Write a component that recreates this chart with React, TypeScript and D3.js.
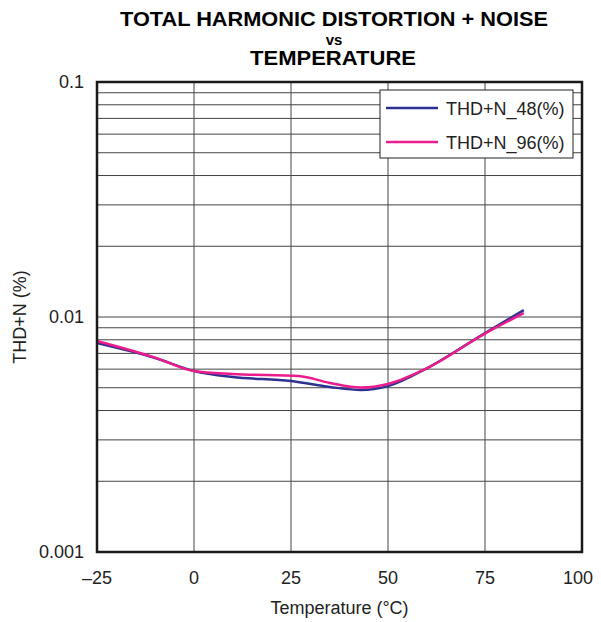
import React, { useEffect } from 'react';
import * as d3 from 'd3';

const temps48 = [-25, -10, 0, 10, 25, 35, 43, 50, 60, 75, 85];
const thd48 = [0.00775, 0.00669, 0.00589, 0.00555, 0.00534, 0.00504, 0.00489, 0.00508, 0.00605, 0.00855, 0.0107];

const temps96 = [-25, -10, 0, 10, 27, 35, 43, 50, 60, 75, 85];
const thd96 = [0.00791, 0.00672, 0.00589, 0.00572, 0.00561, 0.00524, 0.00501, 0.00519, 0.00605, 0.0085, 0.0104];

const xTicks = [-25, 0, 25, 50, 75, 100];
const yTicks = [0.001, 0.01, 0.1];
const yTickLabels = ['0.001', '0.01', '0.1'];

const seriesNames = ['THD+N_48(%)', 'THD+N_96(%)'];
const seriesColors = ['#2e3192', '#ec1c8c'];

const W = 601;
const H = 622;
const M = { left: 97, right: 582, top: 82, bottom: 552 };

const font = 'Arial, "Liberation Sans", Helvetica, sans-serif';

export default function App() {
  useEffect(() => {
    document.body.style.margin = '0';
  }, []);

  const x = d3.scaleLinear().domain([-25, 100]).range([M.left, M.right]);
  const y = d3.scaleLog().domain([0.001, 0.1]).range([M.bottom, M.top]);

  // minor log grid lines 2..9 per decade
  const minor: number[] = [];
  [0.001, 0.01].forEach((d) => {
    for (let k = 2; k <= 9; k++) minor.push(d * k);
  });

  const line = d3
    .line<[number, number]>()
    .x((d) => x(d[0]))
    .y((d) => y(d[1]))
    .curve(d3.curveMonotoneX);

  const series = [
    d3.zip(temps48, thd48) as [number, number][],
    d3.zip(temps96, thd96) as [number, number][],
  ];

  return (
    <svg width={W} height={H} style={{ display: 'block', background: 'white' }} fontFamily={font}>
      {/* title */}
      <text x={334} y={26} textAnchor="middle" fontSize={19.5} fontWeight="bold" fill="#000"
        textLength={428} lengthAdjust="spacingAndGlyphs">
        TOTAL HARMONIC DISTORTION + NOISE
      </text>
      <text x={334} y={45} textAnchor="middle" fontSize={15} fontWeight="bold" fill="#000">
        vs
      </text>
      <text x={333} y={65} textAnchor="middle" fontSize={19.5} fontWeight="bold" fill="#000"
        textLength={166} lengthAdjust="spacingAndGlyphs">
        TEMPERATURE
      </text>

      {/* grid */}
      <g stroke="#444" strokeWidth={1}>
        {minor.concat([0.01]).map((v, i) => (
          <line key={'h' + i} x1={M.left} x2={M.right} y1={y(v)} y2={y(v)} />
        ))}
        {xTicks.slice(1, -1).map((t) => (
          <line key={'v' + t} x1={x(t)} x2={x(t)} y1={M.top} y2={M.bottom} />
        ))}
      </g>

      {/* curves */}
      {series.map((s, i) => (
        <path key={i} d={line(s) || undefined} fill="none" stroke={seriesColors[i]} strokeWidth={2.5} />
      ))}

      {/* legend */}
      <g>
        <rect x={380} y={90} width={193} height={68} fill="white" stroke="#222" strokeWidth={1} />
        {seriesNames.map((n, i) => (
          <g key={n} transform={`translate(0,${108 + i * 34})`}>
            <line x1={386} x2={438} y1={0} y2={0} stroke={seriesColors[i]} strokeWidth={2.5} />
            <text x={446} y={6.5} fontSize={18} fill="#222">
              {n}
            </text>
          </g>
        ))}
      </g>

      {/* frame */}
      <rect
        x={M.left}
        y={M.top}
        width={M.right - M.left}
        height={M.bottom - M.top}
        fill="none"
        stroke="#1a1a1a"
        strokeWidth={2.5}
      />

      {/* y tick labels */}
      {yTicks.map((v, i) => (
        <text key={v} x={84} y={y(v) + 6} textAnchor="end" fontSize={18} fill="#222">
          {yTickLabels[i]}
        </text>
      ))}

      {/* x tick labels */}
      {xTicks.map((t) => (
        <text key={t} x={t === 100 ? x(t) - 4 : x(t)} y={584} textAnchor="middle" fontSize={18} fill="#222">
          {t < 0 ? '\u2013' + Math.abs(t) : t}
        </text>
      ))}

      <text x={x(37.5)} y={614} textAnchor="middle" fontSize={18} fill="#222">
        Temperature (°C)
      </text>
      <text
        transform={`translate(26,${y(0.01)}) rotate(-90)`}
        textAnchor="middle"
        fontSize={18}
        fill="#222"
      >
        THD+N (%)
      </text>
    </svg>
  );
}
